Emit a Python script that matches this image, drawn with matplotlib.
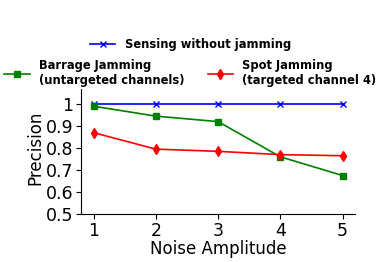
import numpy as np
import matplotlib.pyplot as plt

# Datos
amplitud = [1, 2, 3, 4, 5]
sin_jamming = [1.0, 1.0, 1.0, 1.0, 1.0]
barrage = [0.99, 0.945, 0.92, 0.76, 0.675]
spot = [0.87, 0.795, 0.785, 0.77, 0.765]
yticks = [0.5, 0.6, 0.7, 0.8, 0.9, 1.0]
ytick_labels = ['0.5', '0.6', '0.7', '0.8', '0.9', '1']

fig = plt.figure(figsize=(3.77, 2.62), dpi=100)
ax = fig.add_axes([0.215, 0.183, 0.727, 0.504])

l1, = ax.plot(amplitud, sin_jamming, color='b', marker='x', markersize=4, linewidth=1.2,
              label='Sensing without jamming')
l2, = ax.plot(amplitud, barrage, color='g', marker='s', markersize=4, linewidth=1.2,
              label='Barrage Jamming\n(untargeted channels)')
l3, = ax.plot(amplitud, spot, color='r', marker='d', markersize=5, linewidth=1.2,
              label='Spot Jamming\n(targeted channel 4)')

ax.set_xlim(0.8, 5.2)
ax.set_ylim(0.5, 1.1)
ax.set_xticks(amplitud)
ax.set_yticks(yticks)
ax.set_yticklabels(ytick_labels)
ax.tick_params(labelsize=12.5, pad=2)
ax.set_xlabel('Noise Amplitude', fontsize=12, labelpad=0)
ax.set_ylabel('Precision', fontsize=12, labelpad=1)
ax.spines['top'].set_visible(False)
ax.spines['right'].set_visible(False)

prop = {'weight': 'bold', 'size': 8.3}
leg1 = fig.legend(handles=[l1], loc='center', bbox_to_anchor=(0.505, 0.83), frameon=False,
                  prop=prop, handlelength=2.2)
leg2 = fig.legend(handles=[l2, l3], loc='center', bbox_to_anchor=(0.505, 0.72), ncol=2,
                  prop=prop, handlelength=2.2, columnspacing=2.0,
                  framealpha=1, edgecolor='none', borderpad=0.1)
for t in leg2.get_texts():
    t.set_linespacing(1.2)

fig.savefig('out.png', dpi=100)
